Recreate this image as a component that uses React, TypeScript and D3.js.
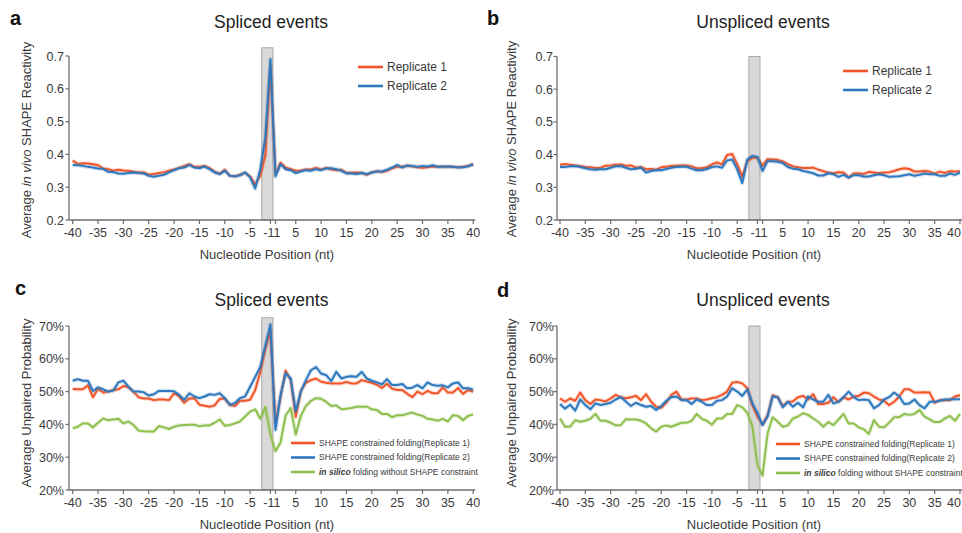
import React from 'react';
import * as d3 from 'd3';

// ---------- DATA ----------
const positions: number[] = [...d3.range(-40, 0), ...d3.range(1, 41)];
const xTickLabels = [-40, -35, -30, -25, -20, -15, -10, -5, -1, 1, 5, 10, 15, 20, 25, 30, 35, 40];
const reactivityTicks = [0.2, 0.3, 0.4, 0.5, 0.6, 0.7];
const unpairedTicks = [20, 30, 40, 50, 60, 70];
// highlighted region, in category-index units
const highlightBox = [37.3, 39.5];

const splicedReactivityRep1 = [
  0.381, 0.371, 0.373, 0.372, 0.370, 0.367, 0.357, 0.355, 0.350, 0.353,
  0.351, 0.350, 0.347, 0.345, 0.345, 0.338, 0.340, 0.343, 0.346, 0.350,
  0.354, 0.359, 0.365, 0.370, 0.362, 0.362, 0.365, 0.358, 0.347, 0.341,
  0.353, 0.335, 0.333, 0.338, 0.344, 0.333, 0.308, 0.335, 0.398, 0.671,
  0.340, 0.375, 0.360, 0.355, 0.350, 0.351, 0.354, 0.354, 0.359, 0.354,
  0.359, 0.354, 0.352, 0.353, 0.344, 0.344, 0.345, 0.344, 0.338, 0.345,
  0.349, 0.346, 0.350, 0.358, 0.362, 0.363, 0.365, 0.363, 0.361, 0.359,
  0.361, 0.363, 0.362, 0.362, 0.362, 0.362, 0.361, 0.362, 0.365, 0.370,
];
const splicedReactivityRep2 = [
  0.368, 0.367, 0.365, 0.362, 0.360, 0.357, 0.356, 0.347, 0.346, 0.342,
  0.341, 0.343, 0.345, 0.343, 0.342, 0.335, 0.332, 0.335, 0.338, 0.345,
  0.352, 0.358, 0.360, 0.368, 0.360, 0.358, 0.363, 0.355, 0.345, 0.340,
  0.350, 0.335, 0.333, 0.336, 0.345, 0.330, 0.296, 0.355, 0.452, 0.690,
  0.333, 0.370, 0.355, 0.352, 0.343, 0.348, 0.352, 0.350, 0.355, 0.352,
  0.357, 0.358, 0.355, 0.350, 0.342, 0.342, 0.340, 0.343, 0.340, 0.345,
  0.348, 0.348, 0.353, 0.360, 0.368, 0.360, 0.366, 0.365, 0.362, 0.365,
  0.363, 0.367, 0.362, 0.363, 0.363, 0.362, 0.360, 0.361, 0.364, 0.370,
];
const unsplicedReactivityRep1 = [
  0.369, 0.371, 0.369, 0.367, 0.365, 0.362, 0.361, 0.359, 0.360, 0.366,
  0.367, 0.369, 0.370, 0.366, 0.367, 0.360, 0.362, 0.355, 0.356, 0.354,
  0.361, 0.363, 0.365, 0.366, 0.367, 0.367, 0.364, 0.358, 0.358, 0.361,
  0.370, 0.376, 0.370, 0.399, 0.402, 0.370, 0.333, 0.380, 0.390, 0.390,
  0.366, 0.386, 0.385, 0.384, 0.379, 0.371, 0.364, 0.361, 0.359, 0.359,
  0.360, 0.354, 0.349, 0.345, 0.343, 0.346, 0.345, 0.330, 0.342, 0.343,
  0.341, 0.347, 0.345, 0.343, 0.345, 0.346, 0.350, 0.355, 0.358, 0.356,
  0.348, 0.348, 0.350, 0.348, 0.342, 0.348, 0.344, 0.349, 0.348, 0.349,
];
const unsplicedReactivityRep2 = [
  0.362, 0.362, 0.364, 0.365, 0.362, 0.358, 0.355, 0.354, 0.355, 0.355,
  0.360, 0.364, 0.365, 0.360, 0.355, 0.357, 0.360, 0.345, 0.350, 0.353,
  0.352, 0.356, 0.360, 0.362, 0.363, 0.363, 0.357, 0.352, 0.352, 0.356,
  0.362, 0.364, 0.360, 0.382, 0.385, 0.355, 0.313, 0.385, 0.396, 0.393,
  0.350, 0.380, 0.380, 0.378, 0.374, 0.362, 0.357, 0.355, 0.350, 0.347,
  0.343, 0.336, 0.336, 0.343, 0.340, 0.332, 0.338, 0.330, 0.337, 0.337,
  0.333, 0.333, 0.337, 0.340, 0.337, 0.332, 0.333, 0.334, 0.337, 0.340,
  0.335, 0.338, 0.342, 0.340, 0.340, 0.335, 0.335, 0.342, 0.338, 0.345,
];

const splicedUnpairedRep1 = [
  50.8, 50.7, 50.7, 51.9, 48.3, 50.9, 49.7, 50.0, 50.5, 50.7,
  51.7, 51.3, 49.9, 48.3, 47.9, 47.9, 47.4, 47.6, 47.6, 47.4,
  49.5, 48.5, 46.6, 47.9, 48.0, 46.0, 45.7, 45.4, 45.8, 47.8,
  47.8, 45.9, 45.6, 47.2, 47.2, 47.5, 50.5, 56.0, 63.0, 68.3,
  40.4, 48.4, 56.4, 53.5, 42.3, 50.2, 52.7, 53.5, 54.0, 53.0,
  52.7, 52.5, 52.5, 52.5, 52.9, 52.5, 52.5, 53.5, 53.1, 52.7,
  52.1, 51.1, 52.4, 50.9, 50.5, 50.5, 49.3, 48.3, 50.0, 49.2,
  50.2, 49.5, 49.5, 51.3, 49.7, 49.7, 51.1, 49.3, 50.5, 49.9,
];
const splicedUnpairedRep2 = [
  53.3, 53.8, 53.3, 53.3, 50.2, 51.3, 50.7, 50.0, 50.3, 52.8,
  53.3, 51.5, 50.0, 50.0, 49.8, 48.8, 49.2, 50.2, 50.2, 50.2,
  50.1, 49.0, 47.5, 49.5, 48.5, 48.0, 48.5, 49.2, 49.0, 49.5,
  48.0, 46.0, 46.5, 48.0, 48.5, 51.5, 54.5, 57.5, 64.0, 70.5,
  38.3, 49.0, 55.6, 54.0, 44.0, 50.0, 53.5, 56.5, 57.5, 55.5,
  55.0, 53.2, 56.0, 54.0, 54.5, 54.7, 54.5, 56.0, 54.0, 53.3,
  52.8, 52.2, 53.8, 52.0, 52.0, 52.3, 51.0, 51.2, 52.0, 51.0,
  52.8, 52.0, 51.8, 51.9, 51.3, 52.5, 52.8, 51.0, 51.0, 50.6,
];
const splicedUnpairedSilico = [
  38.8, 39.3, 40.3, 40.3, 39.1, 40.5, 41.8, 41.3, 41.5, 41.7,
  40.3, 40.9, 39.8, 38.1, 37.9, 37.8, 37.8, 39.5, 39.1, 38.6,
  39.3, 39.7, 39.8, 39.9, 39.9, 39.4, 39.7, 39.7, 40.5, 41.5,
  39.6, 39.8, 40.3, 40.9, 42.4, 43.9, 44.6, 41.7, 45.3, 37.0,
  31.8, 34.5, 42.7, 45.0, 36.9, 42.6, 45.6, 47.2, 48.0, 47.8,
  46.9, 45.6, 45.8, 44.6, 44.8, 45.0, 45.4, 45.4, 45.4, 44.6,
  44.4, 43.2, 43.2, 42.2, 42.8, 42.8, 43.2, 43.6, 43.0, 42.6,
  41.7, 41.5, 41.1, 41.7, 40.9, 42.8, 42.6, 41.3, 42.6, 43.0,
];

const unsplicedUnpairedRep1 = [
  47.9, 46.9, 47.9, 47.2, 49.7, 47.4, 46.2, 47.6, 47.4, 47.0,
  47.9, 49.0, 48.3, 48.0, 48.3, 48.7, 47.4, 49.2, 46.9, 45.4,
  45.1, 46.6, 49.0, 50.0, 47.6, 47.6, 47.9, 47.9, 47.4, 47.6,
  48.0, 48.3, 49.0, 50.0, 52.7, 52.9, 52.5, 51.0, 45.8, 42.4,
  40.0, 42.8, 48.9, 48.3, 45.6, 46.9, 47.0, 48.3, 48.7, 47.6,
  49.2, 46.2, 46.2, 46.6, 48.3, 46.8, 48.3, 47.6, 48.5, 48.7,
  49.7, 49.5, 48.5, 47.6, 47.2, 45.9, 46.9, 48.5, 50.7, 50.7,
  49.7, 49.7, 49.8, 49.7, 46.6, 47.4, 47.4, 47.4, 48.5, 48.9,
];
const unsplicedUnpairedRep2 = [
  46.2, 44.8, 46.0, 44.2, 47.6, 45.9, 44.6, 46.4, 45.9, 46.2,
  46.6, 47.6, 48.3, 47.0, 45.6, 46.6, 45.9, 45.4, 45.6, 44.4,
  45.6, 47.2, 48.3, 48.5, 47.4, 47.4, 46.2, 47.6, 46.9, 45.9,
  45.9, 47.2, 47.4, 48.5, 51.0, 50.0, 48.7, 50.7, 46.4, 43.4,
  39.8, 42.4, 48.5, 48.3, 45.2, 46.9, 45.4, 46.6, 45.2, 48.5,
  47.6, 46.9, 46.9, 49.0, 46.4, 46.9, 48.3, 50.0, 48.3, 47.4,
  47.6, 47.4, 44.9, 45.9, 47.6, 48.3, 49.7, 48.5, 46.2, 46.4,
  47.6, 45.9, 44.9, 46.9, 46.9, 47.2, 47.6, 47.6, 47.7, 47.7,
];
const unsplicedUnpairedSilico = [
  41.8, 39.3, 39.3, 41.3, 40.8, 41.1, 41.7, 43.2, 41.1, 41.1,
  40.5, 39.7, 39.8, 41.6, 41.5, 41.5, 41.1, 40.3, 38.8, 37.8,
  39.3, 39.7, 39.3, 39.9, 40.5, 40.5, 41.1, 43.2, 41.7, 41.1,
  39.9, 41.8, 41.8, 43.2, 43.2, 45.9, 45.2, 43.5, 39.3, 27.6,
  24.4, 37.3, 42.2, 40.8, 39.3, 39.7, 41.8, 42.4, 43.4, 42.9,
  41.8, 40.8, 39.3, 40.7, 39.8, 41.5, 43.2, 40.3, 40.3, 39.1,
  38.5, 37.1, 41.3, 39.3, 39.1, 40.5, 42.2, 42.2, 43.2, 42.9,
  43.2, 44.4, 42.4, 41.5, 40.7, 40.7, 41.8, 42.6, 41.1, 43.2,
];

// ---------- STYLE ----------
const FONT = '"Liberation Sans", Arial, Helvetica, sans-serif';
const C_REP1 = '#F0562A';
const C_REP2 = '#2E78BD';
const C_SILICO = '#8FBF4E';
const AXIS = '#6e6e6e';
const TEXT = '#3a3a3a';
const PAGE_W = 962;

type Series = { values: number[]; color: string; label: React.ReactNode };

type Layout = {
  axisX: number; x0: number; x1: number; top: number; bottom: number;
  letterX: number; letterY: number; titleX: number; titleY: number;
  xLabelY: number; xTitleY: number; yTitleX: number; yTitleY: number; yLabelX: number;
  legendX: number; legendY: number; legendGap: number; legendLine: number; legendFont: number;
};

function Panel(props: {
  letter: string; title: string; yTitle: React.ReactNode; yDomain: [number, number];
  yTicks: number[]; yFmt: (v: number) => string; boxTop: number; series: Series[]; L: Layout;
}) {
  const { letter, title, yTitle, yDomain, yTicks, yFmt, boxTop, series, L } = props;
  const x = d3.scaleLinear().domain([0, positions.length - 1]).range([L.x0, L.x1]);
  const y = d3.scaleLinear().domain(yDomain).range([L.bottom, L.top]);
  const line = d3.line<number>().x((_, i) => x(i)).y((d) => y(d));
  const idx = (p: number) => positions.indexOf(p);
  return (
    <g>
      <text x={L.letterX} y={L.letterY} fontSize={20} fontWeight="bold" fill="#111">{letter}</text>
      <text x={L.titleX} y={L.titleY} fontSize={17.5} textAnchor="middle" fill="#222">{title}</text>
      <rect x={x(highlightBox[0])} y={y(boxTop)} width={x(highlightBox[1]) - x(highlightBox[0])}
        height={L.bottom - y(boxTop)} fill="#d9d9d9" stroke="#a8a8a8" strokeWidth={1} />
      {series.map((s, k) => (
        <g key={k}>
          <path d={line(s.values) || ''} fill="none" stroke={s.color} strokeWidth={4.2} strokeOpacity={0.22} strokeLinejoin="round" />
          <path d={line(s.values) || ''} fill="none" stroke={s.color} strokeWidth={2} strokeLinejoin="round" />
        </g>
      ))}
      {/* y axis */}
      <line x1={L.axisX} x2={L.axisX} y1={L.top} y2={L.bottom} stroke={AXIS} strokeWidth={1.3} />
      {yTicks.map((t) => (
        <g key={t}>
          <line x1={L.axisX - 3.5} x2={L.axisX} y1={y(t)} y2={y(t)} stroke={AXIS} strokeWidth={1.2} />
          <text x={L.yLabelX} y={y(t)} dy="0.36em" fontSize={12.5} textAnchor="end" fill={TEXT}>{yFmt(t)}</text>
        </g>
      ))}
      {/* x axis */}
      <line x1={L.axisX} x2={L.x1 + 2} y1={L.bottom} y2={L.bottom} stroke={AXIS} strokeWidth={1.3} />
      {xTickLabels.map((t) => {
        const px = x(idx(t));
        const nearEdge = px + 8 > PAGE_W;
        return (
          <g key={t}>
            <line x1={px} x2={px} y1={L.bottom} y2={L.bottom + 4} stroke={AXIS} strokeWidth={1.2} />
            <text x={nearEdge ? PAGE_W - 1 : px} dx={t === -1 ? -1.5 : t === 1 ? 1.5 : 0} y={L.xLabelY} fontSize={12.5}
              textAnchor={nearEdge ? 'end' : 'middle'} fill={TEXT}>{t}</text>
          </g>
        );
      })}
      <text x={(L.x0 + L.x1) / 2 - 6} y={L.xTitleY} fontSize={13} textAnchor="middle" fill={TEXT}>Nucleotide Position (nt)</text>
      <text transform={`translate(${L.yTitleX},${L.yTitleY}) rotate(-90)`} fontSize={13} textAnchor="middle" fill={TEXT}>{yTitle}</text>
      {/* legend */}
      {series.map((s, k) => (
        <g key={'lg' + k}>
          <line x1={L.legendX} x2={L.legendX + L.legendLine} y1={L.legendY + k * L.legendGap} y2={L.legendY + k * L.legendGap}
            stroke={s.color} strokeWidth={2.6} />
          <text x={L.legendX + L.legendLine + 4} y={L.legendY + k * L.legendGap} dy="0.35em" fontSize={L.legendFont} fill={TEXT}>{s.label}</text>
        </g>
      ))}
    </g>
  );
}

const layoutA: Layout = { axisX: 69, x0: 72.7, x1: 473.2, top: 56, bottom: 220, letterX: 10, letterY: 25, titleX: 271, titleY: 28,
  xLabelY: 236.5, xTitleY: 259, yTitleX: 31, yTitleY: 140, yLabelX: 64, legendX: 358, legendY: 67, legendGap: 19, legendLine: 25, legendFont: 12 };
const layoutB: Layout = { axisX: 557, x0: 560, x1: 960, top: 56.5, bottom: 220, letterX: 487, letterY: 25, titleX: 763, titleY: 28,
  xLabelY: 236.5, xTitleY: 259, yTitleX: 516, yTitleY: 139, yLabelX: 553, legendX: 843, legendY: 71, legendGap: 19, legendLine: 25, legendFont: 12 };
const layoutC: Layout = { axisX: 69, x0: 72.7, x1: 473.2, top: 326, bottom: 490, letterX: 15, letterY: 295, titleX: 271.5, titleY: 306,
  xLabelY: 507, xTitleY: 529, yTitleX: 31, yTitleY: 403, yLabelX: 64, legendX: 291, legendY: 443, legendGap: 14.5, legendLine: 24, legendFont: 8.5 };
const layoutD: Layout = { axisX: 557, x0: 560, x1: 960, top: 326, bottom: 490, letterX: 497, letterY: 297, titleX: 763, titleY: 306,
  xLabelY: 507, xTitleY: 529, yTitleX: 516, yTitleY: 403, yLabelX: 554, legendX: 776, legendY: 444, legendGap: 14.5, legendLine: 24, legendFont: 8.5 };

const reactTitle = (<>Average <tspan fontStyle="italic">in vivo</tspan> SHAPE Reactivity</>);
const silicoLabel = (<><tspan fontStyle="italic" fontWeight="bold">in silico</tspan> folding without SHAPE constraint</>);

export default function App() {
  const fmt1 = (v: number) => v.toFixed(1);
  const fmtPct = (v: number) => `${v}%`;
  return (
    <svg width={962} height={533} viewBox="0 0 962 533"
      style={{ position: 'absolute', left: 0, top: 0, background: '#fff', fontFamily: FONT }}>
      <rect width={962} height={533} fill="#fff" />
      <Panel letter="a" title="Spliced events" yTitle={reactTitle} yDomain={[0.2, 0.7]} yTicks={reactivityTicks} yFmt={fmt1}
        boxTop={0.725} L={layoutA}
        series={[
          { values: splicedReactivityRep1, color: C_REP1, label: 'Replicate 1' },
          { values: splicedReactivityRep2, color: C_REP2, label: 'Replicate 2' },
        ]} />
      <Panel letter="b" title="Unspliced events" yTitle={reactTitle} yDomain={[0.2, 0.7]} yTicks={reactivityTicks} yFmt={fmt1}
        boxTop={0.7} L={layoutB}
        series={[
          { values: unsplicedReactivityRep1, color: C_REP1, label: 'Replicate 1' },
          { values: unsplicedReactivityRep2, color: C_REP2, label: 'Replicate 2' },
        ]} />
      <Panel letter="c" title="Spliced events" yTitle="Average Unpaired Probability" yDomain={[20, 70]} yTicks={unpairedTicks} yFmt={fmtPct}
        boxTop={72.5} L={layoutC}
        series={[
          { values: splicedUnpairedRep1, color: C_REP1, label: 'SHAPE constrained folding(Replicate 1)' },
          { values: splicedUnpairedRep2, color: C_REP2, label: 'SHAPE constrained folding(Replicate 2)' },
          { values: splicedUnpairedSilico, color: C_SILICO, label: silicoLabel },
        ]} />
      <Panel letter="d" title="Unspliced events" yTitle="Average Unpaired Probability" yDomain={[20, 70]} yTicks={unpairedTicks} yFmt={fmtPct}
        boxTop={70} L={layoutD}
        series={[
          { values: unsplicedUnpairedRep1, color: C_REP1, label: 'SHAPE constrained folding(Replicate 1)' },
          { values: unsplicedUnpairedRep2, color: C_REP2, label: 'SHAPE constrained folding(Replicate 2)' },
          { values: unsplicedUnpairedSilico, color: C_SILICO, label: silicoLabel },
        ]} />
    </svg>
  );
}
